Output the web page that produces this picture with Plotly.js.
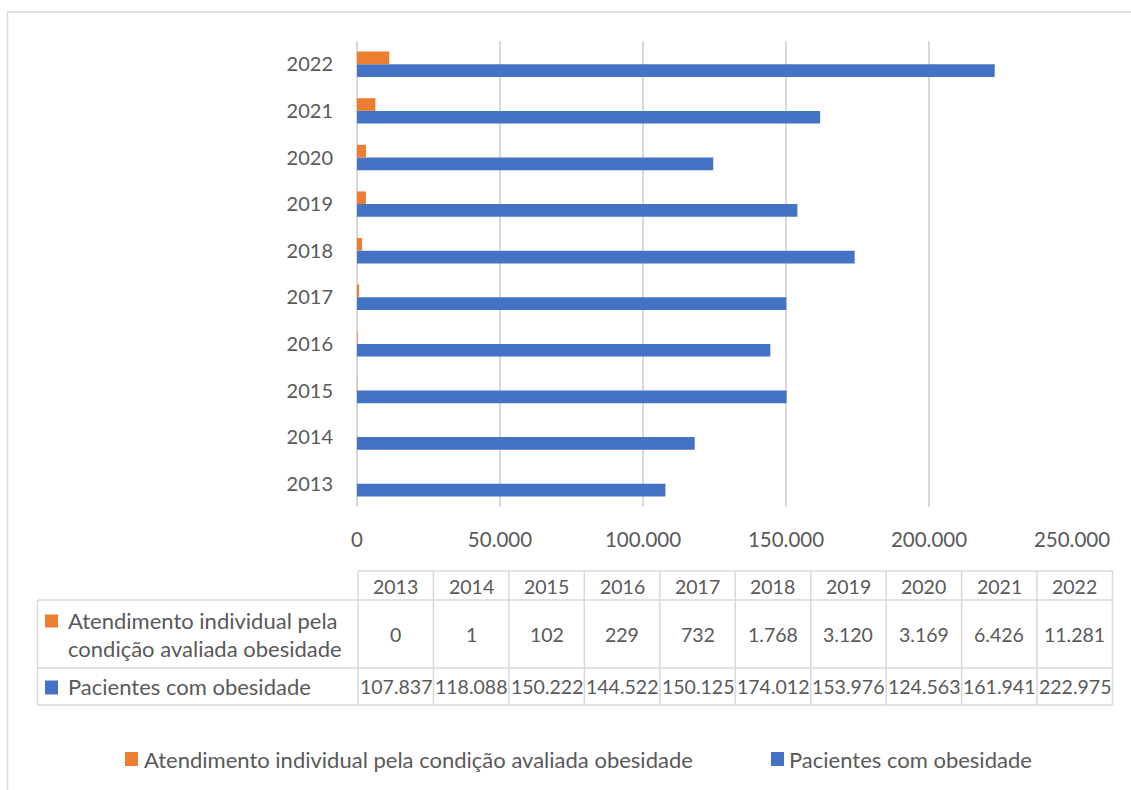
<!DOCTYPE html>
<html>
<head>
<meta charset="utf-8">
<script src="https://cdn.plot.ly/plotly-3.0.1.min.js"></script>
<style>html,body{margin:0;padding:0;background:#fff;}#chart{width:1131px;height:790px;}</style>
</head>
<body>
<div id="chart"></div>
<script>
// ---- data ----
const years = ['2013','2014','2015','2016','2017','2018','2019','2020','2021','2022'];
const atendimento = [0, 1, 102, 229, 732, 1768, 3120, 3169, 6426, 11281];
const pacientes = [107837, 118088, 150222, 144522, 150125, 174012, 153976, 124563, 161941, 222975];
const nameAtend = 'Atendimento individual pela condição avaliada obesidade';
const nameAtendLines = ['Atendimento individual pela', 'condição avaliada obesidade'];
const namePac = 'Pacientes com obesidade';
const xTicks = [0, 50000, 100000, 150000, 200000, 250000];

// ---- style ----
const ORANGE = '#ED7D31', BLUE = '#4472C4', TXT = '#595959', GRID = '#d9d9d9';
const FONT = 'Lato, "Open Sans", sans-serif';
const FS_NUM = 19.5;   // numbers
const FS_TXT = 22;     // words

// plot area in pixels
const L = 357, R = 1072, T = 41, B = 507;
const W = R - L, H = B - T;
const px = x => (x - L) / W;
const py = y => (B - y) / H;

function fmt(n) {
  return String(n).replace(/\B(?=(\d{3})+(?!\d))/g, '.');
}

const traces = [
  { type: 'bar', orientation: 'h', name: namePac, y: years, x: pacientes,
    marker: { color: BLUE }, hoverinfo: 'x+name' },
  { type: 'bar', orientation: 'h', name: nameAtend, y: years, x: atendimento,
    marker: { color: ORANGE }, hoverinfo: 'x+name' }
];

const shapes = [];
const annotations = [];
const line = { color: GRID, width: 1.5 };
function hline(x0, x1, y) { shapes.push({ type: 'line', xref: 'paper', yref: 'paper', x0: px(x0), x1: px(x1), y0: py(y), y1: py(y), line }); }
function vline(x, y0, y1) { shapes.push({ type: 'line', xref: 'paper', yref: 'paper', x0: px(x), x1: px(x), y0: py(y0), y1: py(y1), line }); }
function rect(x0, y0, x1, y1, color) {
  shapes.push({ type: 'rect', xref: 'paper', yref: 'paper', x0: px(x0), x1: px(x1), y0: py(y0), y1: py(y1), fillcolor: color, line: { width: 0 } });
}
function text(t, x, y, xanchor, size) {
  annotations.push({ xref: 'paper', yref: 'paper', x: px(x), y: py(y), text: t, showarrow: false,
    xanchor: xanchor || 'center', yanchor: 'middle', font: { family: FONT, size: size || FS_NUM, color: TXT } });
}

// outer chart border
shapes.push({ type: 'rect', xref: 'paper', yref: 'paper', x0: px(7.5), x1: px(1140), y0: py(12), y1: py(800), line: { color: GRID, width: 1.5 } });

// data table
const tL = 37.5, tC = 358, tR = 1112.5;
const yHead = 571, yR1 = 600, yR2 = 668, yEnd = 705;
const colW = (tR - tC) / years.length;
hline(tC, tR, yHead);
hline(tL, tR, yR1);
hline(tL, tR, yR2);
hline(tL, tR, yEnd);
vline(tL, yR1, yEnd);
for (let i = 0; i <= years.length; i++) vline(tC + i * colW, yHead, yEnd);
years.forEach((yr, i) => {
  const cx = tC + (i + 0.5) * colW;
  text(yr, cx, (yHead + yR1) / 2 + 0.5);
  text(fmt(atendimento[i]), cx, (yR1 + yR2) / 2);
  text(fmt(pacientes[i]), cx, (yR2 + yEnd) / 2 - 0.5);
});
rect(45, 614.5, 58, 627.5, ORANGE);
text(nameAtendLines[0], 66, 620, 'left', FS_TXT);
text(nameAtendLines[1], 66, 648, 'left', FS_TXT);
rect(45, 680.5, 58, 694.5, BLUE);
text(namePac, 66, 686, 'left', FS_TXT);

// bottom legend
rect(125, 752, 138, 766, ORANGE);
text(nameAtend, 142, 759.5, 'left', FS_TXT);
rect(771, 752, 784, 766, BLUE);
text(namePac, 787, 759.5, 'left', FS_TXT);

const layout = {
  width: 1131, height: 790,
  margin: { l: L, r: 1131 - R, t: T, b: 790 - B, pad: 0 },
  paper_bgcolor: '#fff', plot_bgcolor: '#fff',
  separators: ',.',
  showlegend: false,
  barmode: 'group', bargap: 0.455, bargroupgap: 0,
  font: { family: FONT, size: FS_NUM, color: TXT },
  xaxis: {
    range: [0, 250000], tickvals: xTicks, tickformat: ',d', ticks: '',
    showgrid: true, gridcolor: GRID, gridwidth: 1.5,
    zeroline: true, zerolinecolor: GRID, zerolinewidth: 1.5,
    showline: false, ticklabelstandoff: 18, fixedrange: true,
    tickfont: { family: FONT, size: 20.5, color: TXT }
  },
  yaxis: {
    type: 'category', categoryorder: 'array', categoryarray: years,
    ticks: '', showgrid: false, zeroline: false, showline: false,
    ticklabelstandoff: 23, fixedrange: true,
    tickfont: { family: FONT, size: 20, color: TXT }
  },
  shapes, annotations
};

Plotly.newPlot('chart', traces, layout, { displayModeBar: false, staticPlot: true });
</script>
</body>
</html>
